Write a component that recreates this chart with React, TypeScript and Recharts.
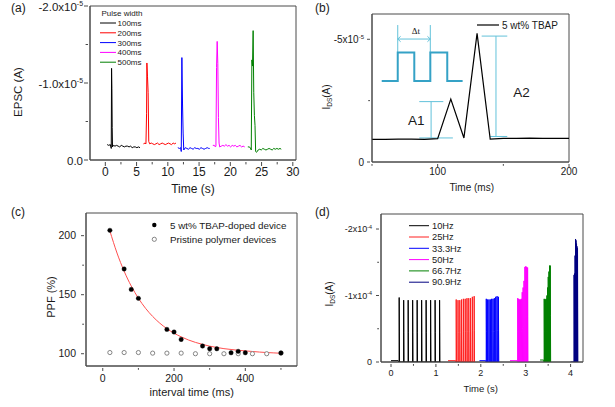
import React from "react";
import { ComposedChart, Line, XAxis, YAxis, ReferenceArea, ReferenceLine } from "recharts";

const FONT = "'Liberation Sans', Arial, Helvetica, sans-serif";
const AX = "#4a4a4a";
const TXT = "#1a1a1a";

// ---------- (a) EPSC for different pulse widths, in 1e-5 A ----------
const pulseWidths = ["100ms", "200ms", "300ms", "400ms", "500ms"];
const pulseColors = ["#000000", "#ff0000", "#0000ff", "#ff00ff", "#008000"];

const t100 = [0.3, 0.55, 0.8, 0.95, 1.0, 1.05, 1.1, 1.15, 1.3, 1.55, 1.8, 2.05, 2.3, 2.55, 2.8, 3.05, 3.3, 3.55, 3.8, 4.05, 4.3, 4.55, 4.8, 5.05, 5.3, 5.55];
const i100 = [-0.2, -0.19, -0.2, -0.15, -1.19, -0.93, -0.42, -0.17, -0.19, -0.18, -0.19, -0.18, -0.17, -0.19, -0.18, -0.17, -0.18, -0.18, -0.17, -0.18, -0.16, -0.17, -0.17, -0.16, -0.17, -0.16];
const t200 = [6.1, 6.35, 6.5, 6.6, 6.65, 6.75, 6.85, 6.95, 7.1, 7.35, 7.6, 7.85, 8.1, 8.35, 8.6, 8.85, 9.1, 9.35, 9.6, 9.85, 10.1, 10.35, 10.6, 10.85, 11.1, 11.3];
const i200 = [-0.21, -0.22, -0.21, -0.6, -1.26, -1.08, -0.88, -0.24, -0.21, -0.22, -0.21, -0.2, -0.21, -0.22, -0.2, -0.21, -0.22, -0.21, -0.2, -0.21, -0.22, -0.21, -0.2, -0.22, -0.21, -0.22];
const t300 = [11.6, 11.85, 12.05, 12.15, 12.25, 12.35, 12.45, 12.55, 12.8, 13.05, 13.3, 13.55, 13.8, 14.05, 14.3, 14.55, 14.8, 15.05, 15.3, 15.55, 15.8, 16.05, 16.3, 16.55, 16.7];
const i300 = [-0.16, -0.15, -0.16, -0.11, -1.33, -0.74, -0.35, -0.13, -0.16, -0.15, -0.14, -0.16, -0.15, -0.14, -0.16, -0.15, -0.15, -0.14, -0.16, -0.15, -0.14, -0.15, -0.16, -0.15, -0.15];
const t400 = [17.2, 17.45, 17.6, 17.7, 17.8, 17.9, 18.0, 18.1, 18.2, 18.3, 18.55, 18.8, 19.05, 19.3, 19.55, 19.8, 20.05, 20.3, 20.55, 20.8, 21.05, 21.3, 21.55, 21.8, 22.05, 22.3];
const i400 = [-0.19, -0.19, -0.17, -0.18, -1.2, -1.54, -1.25, -0.55, -0.22, -0.17, -0.18, -0.19, -0.18, -0.2, -0.18, -0.19, -0.17, -0.19, -0.18, -0.19, -0.17, -0.18, -0.19, -0.17, -0.18, -0.17];
const t500 = [22.8, 23.0, 23.2, 23.35, 23.45, 23.55, 23.65, 23.75, 23.85, 23.95, 24.05, 24.2, 24.45, 24.7, 24.95, 25.2, 25.45, 25.7, 25.95, 26.2, 26.45, 26.7, 26.95, 27.2, 27.45, 27.7, 27.95, 28.15];
const i500 = [-0.17, -0.17, -0.16, -0.13, -1.3, -1.22, -1.68, -0.88, -0.58, -0.45, -0.11, -0.1, -0.13, -0.14, -0.13, -0.15, -0.14, -0.13, -0.14, -0.15, -0.14, -0.13, -0.15, -0.14, -0.15, -0.14, -0.15, -0.14];
const aXTicks = [0, 2.5, 5, 7.5, 10, 12.5, 15, 17.5, 20, 22.5, 25, 27.5, 30];
const aYTicks = [0, -0.5, -1, -1.5, -2];

// ---------- (b) paired pulse response, in 1e-5 A ----------
const bTime = [50, 60, 70, 80, 90, 100, 110, 120, 130, 140, 150, 160, 170, 180, 190, 200];
const bCurrent = [-0.92, -0.92, -0.93, -0.93, -0.92, -0.95, -2.56, -0.98, -5.24, -0.93, -0.96, -0.96, -0.97, -0.96, -0.96, -0.96];
// inset pulse schematic
const insetT = [57.4, 69.6, 69.6, 82.2, 82.2, 94.4, 94.4, 107.3, 107.3, 119];
const insetV = [-3.3, -3.3, -4.46, -4.46, -3.3, -3.3, -4.46, -4.46, -3.3, -3.3];
// Δt marker and A1 / A2 brackets: [x1, y1, x2, y2]
const markSegs = [
  [69.6, -4.46, 69.6, -5.58],
  [94.4, -4.46, 94.4, -5.58],
  [69.6, -5.01, 94.4, -5.01],
  [69.6, -5.01, 71.8, -5.12],
  [69.6, -5.01, 71.8, -4.9],
  [94.4, -5.01, 92.2, -5.12],
  [94.4, -5.01, 92.2, -4.9],
  [95, -0.98, 95, -2.46],
  [86, -2.46, 104.3, -2.46],
  [86, -0.98, 111.6, -0.98],
  [144.4, -1.04, 144.4, -5.13],
  [133.5, -5.13, 153, -5.13],
  [140, -1.04, 153, -1.04],
];
const bXTicks = [50, 100, 150, 200];
const bYTicks = [0, -2.5, -5];

// ---------- (c) PPF vs interval ----------
const dopedT = [20, 60, 80, 100, 180, 200, 220, 280, 300, 320, 360, 380, 400, 500];
const dopedPPF = [204.5, 171.8, 154.5, 146.9, 120.6, 118.4, 112.1, 106.5, 104.2, 104.2, 100.8, 102, 100.8, 100.6];
const pristineT = [20, 60, 100, 140, 180, 220, 260, 300, 340, 380, 420, 460, 500];
const pristinePPF = [101, 101, 101, 100.5, 100.5, 100.5, 100, 100, 100, 100, 100, 100, 100.6];
const fitT = [20, 40, 60, 80, 100, 120, 140, 160, 180, 200, 220, 240, 260, 280, 300, 320, 340, 360, 380, 400, 420, 440, 460, 480, 500];
const fitPPF = [204, 185.3, 169.9, 157.3, 147, 138.5, 131.6, 125.9, 121.2, 117.4, 114.3, 111.7, 109.6, 107.9, 106.4, 105.3, 104.3, 103.6, 102.9, 102.4, 101.9, 101.4, 101.0, 100.7, 100.4];
const cXTicks = [0, 100, 200, 300, 400, 500];
const cYTicks = [100, 125, 150, 175, 200];

// ---------- (d) pulse trains, in 1e-4 A ----------
const freqs = ["10Hz", "25Hz", "33.3Hz", "50Hz", "66.7Hz", "90.9Hz"];
const freqColors = ["#000000", "#ff2020", "#0000ff", "#ff00ff", "#008000", "#000080"];
const trainBase = [[0.0, 0.16], [1.27, 1.44], [1.97, 2.11], [2.65, 2.81], [3.32, 3.4], [4.0, 4.07]];
const trainLevel = [-0.02, -0.02, -0.02, -0.02, -0.03, 0];
const trainTimes = [
  [0.18, 0.28, 0.38, 0.48, 0.58, 0.68, 0.78, 0.88, 0.98, 1.08],
  [1.45, 1.49, 1.53, 1.57, 1.61, 1.65, 1.69, 1.73, 1.77, 1.81, 1.85],
  [2.12, 2.15, 2.18, 2.21, 2.24, 2.27, 2.3, 2.33, 2.36, 2.39],
  [2.82, 2.84, 2.86, 2.88, 2.9, 2.92, 2.94, 2.96, 2.98, 3.0, 3.02, 3.04],
  [3.41, 3.425, 3.44, 3.455, 3.47, 3.485, 3.5, 3.515, 3.53, 3.545],
  [4.075, 4.086, 4.097, 4.108, 4.119, 4.13, 4.141, 4.152],
];
const trainPeaks = [
  [-0.97, -0.93, -0.93, -0.93, -0.93, -0.93, -0.93, -0.93, -0.93, -0.93],
  [-0.94, -0.93, -0.93, -0.94, -0.95, -0.95, -0.96, -0.96, -0.96, -0.98, -0.99],
  [-0.95, -0.94, -0.94, -0.94, -0.95, -0.95, -0.96, -0.98, -0.99, -0.98],
  [-0.96, -0.95, -0.94, -0.94, -0.95, -1.05, -1.12, -1.22, -1.43, -1.44, -1.43, -1.42],
  [-0.95, -0.94, -0.94, -0.95, -1.0, -1.12, -1.28, -1.36, -1.45, -1.45],
  [-1.31, -1.33, -1.6, -1.85, -1.83, -1.78, -1.74, -1.71],
];
const dXTicks = [0, 0.5, 1, 1.5, 2, 2.5, 3, 3.5, 4];
const dYTicks = [0, -0.5, -1, -1.5, -2];

type Pt = { t: number; v: number };
const zip = (ts: number[], vs: number[]): Pt[] => ts.map((t, i) => ({ t, v: vs[i] }));

const buildTrain = (k: number): Pt[] => {
  const lv = trainLevel[k];
  const pts: Pt[] = [{ t: trainBase[k][0], v: lv }, { t: trainBase[k][1], v: lv }];
  trainTimes[k].forEach((t, i) => {
    const p = trainPeaks[k][i];
    pts.push({ t, v: 0 }, { t: t + 0.002, v: p }, { t: t + 0.006, v: p * 0.48 }, { t: t + 0.01, v: 0 });
  });
  return pts;
};

const aSeries = [zip(t100, i100), zip(t200, i200), zip(t300, i300), zip(t400, i400), zip(t500, i500)];
const dSeries = freqs.map((_, k) => buildTrain(k));

type Lab = { main: string; sup?: string } | null;

const makeTick = (side: "x" | "y", fmt: (v: number) => Lab, font: number, gap: number, len: number, shift = 0.35) =>
  (p: any) => {
    const { x, y, payload } = p;
    const lab = fmt(payload.value);
    const l = lab ? len : len * 0.6;
    if (side === "x") {
      return (
        <g>
          <line x1={x} x2={x} y1={y} y2={y + l} stroke={AX} />
          {lab && (
            <text x={x} y={y + gap} textAnchor="middle" fontSize={font} fontFamily={FONT} fill={TXT}>
              {lab.main}
            </text>
          )}
        </g>
      );
    }
    return (
      <g>
        <line x1={x - l} x2={x} y1={y} y2={y} stroke={AX} />
        {lab && (
          <text x={x - gap} y={y} dy={font * shift} textAnchor="end" fontSize={font} fontFamily={FONT} fill={TXT}>
            {lab.main}
            {lab.sup && (
              <tspan dy={-font * 0.38} fontSize={font * 0.6}>
                {lab.sup}
              </tspan>
            )}
          </text>
        )}
      </g>
    );
  };

const fmtA_x = (v: number): Lab => (v % 5 === 0 ? { main: String(v) } : null);
const fmtA_y = (v: number): Lab =>
  v === 0 ? { main: "0.0" } : v === -1 ? { main: "-1.0x10", sup: "-5" } : v === -2 ? { main: "-2.0x10", sup: "-5" } : null;
const fmtB_x = (v: number): Lab => (v === 100 || v === 200 ? { main: String(v) } : null);
const fmtB_y = (v: number): Lab => (v === 0 ? { main: "0" } : v === -5 ? { main: "-5x10", sup: "-5" } : null);
const fmtC_x = (v: number): Lab => (v % 200 === 0 ? { main: String(v) } : null);
const fmtC_y = (v: number): Lab => (v % 50 === 0 ? { main: String(v) } : null);
const fmtD_x = (v: number): Lab => (Number.isInteger(v) ? { main: String(v) } : null);
const fmtD_y = (v: number): Lab =>
  v === 0 ? { main: "0" } : v === -1 ? { main: "-1x10", sup: "-4" } : v === -2 ? { main: "-2x10", sup: "-4" } : null;

const axisCommon = { tickSize: 0, tickLine: false, interval: 0 as const, allowDataOverflow: true, axisLine: { stroke: AX } };

const PanelA = () => (
  <div style={{ position: "absolute", left: 0, top: 0 }}>
    <ComposedChart width={310} height={200} margin={{ top: 6, right: 14, bottom: 0, left: 0 }}>
      <XAxis dataKey="t" type="number" domain={[-2.45, 30.51]} ticks={aXTicks} height={40} tick={makeTick("x", fmtA_x, 12, 14, 4)} {...axisCommon} />
      <YAxis type="number" reversed domain={[-2, 0]} ticks={aYTicks} width={90} tick={makeTick("y", fmtA_y, 11.5, 5, 4, 0.4)} {...axisCommon} />
      <ReferenceArea x1={-2.45} x2={30.51} y1={-2} y2={0} fill="none" stroke={AX} />
      {aSeries.map((d, i) => (
        <Line key={pulseWidths[i]} data={d} dataKey="v" type="linear" stroke={pulseColors[i]} strokeWidth={1} dot={false} activeDot={false} isAnimationActive={false} />
      ))}
    </ComposedChart>
  </div>
);

const PanelB = () => (
  <div style={{ position: "absolute", left: 305, top: 0 }}>
    <ComposedChart width={305} height={200} margin={{ top: 14, right: 41, bottom: 8, left: 0 }}>
      <XAxis dataKey="t" type="number" domain={[50, 200]} ticks={bXTicks} height={30} tick={makeTick("x", fmtB_x, 10, 11, 3)} {...axisCommon} />
      <YAxis type="number" reversed domain={[-6.03, 0]} ticks={bYTicks} width={67} tick={makeTick("y", fmtB_y, 10, 6, 3)} {...axisCommon} />
      <ReferenceArea x1={50} x2={200} y1={-6.03} y2={0} fill="none" stroke={AX} />
      {markSegs.map((s, i) => (
        <ReferenceLine key={i} segment={[{ x: s[0], y: s[1] }, { x: s[2], y: s[3] }]} stroke="#62c2da" strokeWidth={1} />
      ))}
      <Line data={zip(insetT, insetV)} dataKey="v" type="linear" stroke="#35a2c6" strokeWidth={2} dot={false} activeDot={false} isAnimationActive={false} />
      <Line data={zip(bTime, bCurrent)} dataKey="v" type="linear" stroke="#000" strokeWidth={1.2} dot={false} activeDot={false} isAnimationActive={false} />
    </ComposedChart>
  </div>
);

const PanelC = () => (
  <div style={{ position: "absolute", left: 0, top: 200 }}>
    <ComposedChart width={310} height={207} margin={{ top: 13, right: 13, bottom: 0, left: 0 }}>
      <XAxis dataKey="t" type="number" domain={[-47, 545]} ticks={cXTicks} height={41} tick={makeTick("x", fmtC_x, 10.5, 14, 3)} {...axisCommon} />
      <YAxis type="number" domain={[89.6, 219.2]} ticks={cYTicks} width={86} tick={makeTick("y", fmtC_y, 10.5, 8, 3)} {...axisCommon} />
      <ReferenceArea x1={-47} x2={545} y1={89.6} y2={219.2} fill="none" stroke={AX} />
      <Line data={zip(fitT, fitPPF)} dataKey="v" type="monotone" stroke="#ff5050" strokeWidth={1} dot={false} activeDot={false} isAnimationActive={false} />
      <Line data={zip(pristineT, pristinePPF)} dataKey="v" stroke="none" dot={{ r: 2.1, fill: "#fff", stroke: "#777", strokeWidth: 0.9 }} activeDot={false} isAnimationActive={false} />
      <Line data={zip(dopedT, dopedPPF)} dataKey="v" stroke="none" dot={{ r: 2.2, fill: "#000", stroke: "#000", strokeWidth: 0.4 }} activeDot={false} isAnimationActive={false} />
    </ComposedChart>
  </div>
);

const PanelD = () => (
  <div style={{ position: "absolute", left: 305, top: 200 }}>
    <ComposedChart width={310} height={207} margin={{ top: 14, right: 32, bottom: 0, left: 0 }}>
      <XAxis dataKey="t" type="number" domain={[-0.223, 4.276]} ticks={dXTicks} height={45} tick={makeTick("x", fmtD_x, 9, 12, 3)} {...axisCommon} />
      <YAxis type="number" reversed domain={[-2.226, 0]} ticks={dYTicks} width={76} tick={makeTick("y", fmtD_y, 9, 7, 3)} {...axisCommon} />
      <ReferenceArea x1={-0.223} x2={4.276} y1={-2.226} y2={0} fill="none" stroke={AX} />
      {dSeries.map((d, i) => (
        <Line key={freqs[i]} data={d} dataKey="v" type="linear" stroke={freqColors[i]} strokeWidth={1} dot={false} activeDot={false} isAnimationActive={false} />
      ))}
    </ComposedChart>
  </div>
);

const IdsLabel = ({ x, y }: { x: number; y: number }) => (
  <text transform={`translate(${x},${y}) rotate(-90)`} textAnchor="middle" fontSize={10}>
    I<tspan fontSize={6.5} dy={2}>DS</tspan>
    <tspan dy={-2}>(A)</tspan>
  </text>
);

const Overlay = () => (
  <svg width={615} height={407} style={{ position: "absolute", left: 0, top: 0, pointerEvents: "none" }} fontFamily={FONT} fill={TXT}>
    {/* panel letters */}
    <text x={11} y={12} fontSize={12}>(a)</text>
    <text x={315} y={12} fontSize={12}>(b)</text>
    <text x={11} y={216} fontSize={12}>(c)</text>
    <text x={315} y={216} fontSize={12}>(d)</text>

    {/* (a) */}
    <text transform="translate(22,92) rotate(-90)" textAnchor="middle" fontSize={11.5}>EPSC (A)</text>
    <text x={193} y={193} textAnchor="middle" fontSize={12}>Time (s)</text>
    <text x={101.5} y={15.5} fontSize={8}>Pulse width</text>
    {pulseWidths.map((n, i) => {
      const y = 23 + i * 9.8;
      return (
        <g key={n}>
          <line x1={100} x2={116} y1={y} y2={y} stroke={pulseColors[i]} />
          <text x={117.5} y={y + 2.9} fontSize={8}>{n}</text>
        </g>
      );
    })}

    {/* (b) */}
    <IdsLabel x={329.5} y={97} />
    <text x={471.7} y={191} textAnchor="middle" fontSize={10}>Time (ms)</text>
    <line x1={477} x2={499} y1={25} y2={25} stroke="#000" strokeWidth={1.2} />
    <text x={502} y={28.5} fontSize={10}>5 wt% TBAP</text>
    <text x={408} y={125} fontSize={13.5}>A1</text>
    <text x={513.3} y={96.7} fontSize={13.5}>A2</text>
    <text x={411.7} y={34} fontSize={9} fontFamily="'Liberation Serif', 'Times New Roman', serif">Δt</text>

    {/* (c) */}
    <text transform="translate(55,297) rotate(-90)" textAnchor="middle" fontSize={11}>PPF (%)</text>
    <text x={191.7} y={396} textAnchor="middle" fontSize={11}>interval time (ms)</text>
    <circle cx={154.3} cy={225} r={2.2} fill="#000" />
    <text x={170} y={228.5} fontSize={9.8}>5 wt% TBAP-doped device</text>
    <circle cx={154.3} cy={239.3} r={2.1} fill="#fff" stroke="#777" strokeWidth={0.9} />
    <text x={170} y={242.8} fontSize={9.8}>Pristine polymer devices</text>

    {/* (d) */}
    <IdsLabel x={333} y={294} />
    <text x={480.7} y={392} textAnchor="middle" fontSize={9.5}>Time (s)</text>
    {freqs.map((n, i) => {
      const y = 225.7 + i * 11.3;
      return (
        <g key={n}>
          <line x1={409} x2={429} y1={y} y2={y} stroke={freqColors[i]} />
          <text x={432} y={y + 3.2} fontSize={9.3}>{n}</text>
        </g>
      );
    })}
  </svg>
);

export default function App() {
  return (
    <div style={{ position: "absolute", left: 0, top: 0, width: 615, height: 407, background: "#fff", overflow: "hidden" }}>
      <PanelA />
      <PanelB />
      <PanelC />
      <PanelD />
      <Overlay />
    </div>
  );
}
